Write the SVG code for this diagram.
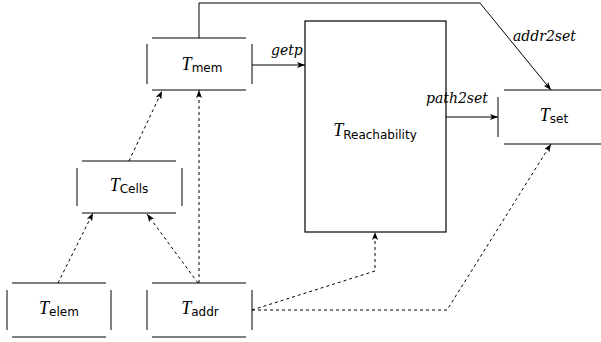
<svg xmlns="http://www.w3.org/2000/svg" width="601" height="342" viewBox="0 0 601 342">
<style>
.n line{stroke:#000;stroke-width:1}
.c path{fill:none;stroke:#000;stroke-width:1}
.d{stroke-dasharray:3 3}
.T{font-family:"Liberation Serif","DejaVu Serif",serif;font-style:italic;font-size:18px}
.s{font-family:"DejaVu Sans","Liberation Sans",sans-serif;font-size:12px}
.lbl{font-family:"DejaVu Serif","Liberation Serif",serif;font-style:italic;font-size:13px}
</style>
<defs>
<marker id="a" viewBox="0 0 8 6" refX="8" refY="3" markerWidth="8" markerHeight="6" markerUnits="userSpaceOnUse" orient="auto">
<path d="M0,0 L8,3 L0,6 L2,3 z" fill="#000"/>
</marker>
</defs>
<rect width="601" height="342" fill="#fff"/>
<g id="mem" class="n">
<line x1="152" y1="38" x2="246" y2="38"/><line x1="152" y1="90" x2="246" y2="90"/>
<line x1="147" y1="44" x2="147" y2="84"/><line x1="252" y1="44" x2="252" y2="84"/>
<text x="202" y="70" text-anchor="middle"><tspan class="T">T</tspan><tspan class="s" dy="2">mem</tspan></text>
</g>
<g id="reach">
<rect x="305" y="21" width="141" height="211" fill="none" stroke="#000" stroke-width="1.2"/>
<text x="375" y="136" text-anchor="middle"><tspan class="T">T</tspan><tspan class="s" dy="3">Reachability</tspan></text>
</g>
<g id="set" class="n">
<line x1="504" y1="90" x2="601" y2="90"/><line x1="504" y1="144" x2="601" y2="144"/>
<line x1="498" y1="97" x2="498" y2="137"/>
<text x="554" y="121" text-anchor="middle"><tspan class="T">T</tspan><tspan class="s" dy="2">set</tspan></text>
</g>
<g id="cells" class="n">
<line x1="82" y1="161" x2="176" y2="161"/><line x1="82" y1="213" x2="176" y2="213"/>
<line x1="77" y1="168" x2="77" y2="206"/><line x1="182" y1="168" x2="182" y2="206"/>
<text x="129" y="191" text-anchor="middle"><tspan class="T">T</tspan><tspan class="s" dy="2">Cells</tspan></text>
</g>
<g id="elem" class="n">
<line x1="12" y1="283" x2="106" y2="283"/><line x1="12" y1="337" x2="106" y2="337"/>
<line x1="7" y1="290" x2="7" y2="330"/><line x1="111" y1="290" x2="111" y2="330"/>
<text x="59" y="314" text-anchor="middle"><tspan class="T">T</tspan><tspan class="s" dy="2">elem</tspan></text>
</g>
<g id="addr" class="n">
<line x1="152" y1="283" x2="246" y2="283"/><line x1="152" y1="337" x2="246" y2="337"/>
<line x1="147" y1="290" x2="147" y2="330"/><line x1="252" y1="290" x2="252" y2="330"/>
<text x="200" y="314" text-anchor="middle"><tspan class="T">T</tspan><tspan class="s" dy="2">addr</tspan></text>
</g>
<g id="connectors" class="c">
<path d="M252,65 L305,65" marker-end="url(#a)"/>
<path d="M199,38 L199,3 L480,3 L551,90" marker-end="url(#a)"/>
<path d="M446,117 L498,117" marker-end="url(#a)"/>
<path class="d" d="M58,283 L93,213" marker-end="url(#a)"/>
<path class="d" d="M198,283 L147,214" marker-end="url(#a)"/>
<path class="d" d="M199,283 L199,90" marker-end="url(#a)"/>
<path class="d" d="M129,161 L162,91" marker-end="url(#a)"/>
<path class="d" d="M252,310 L375,271 L375,232" marker-end="url(#a)"/>
<path class="d" d="M252,310 L447,310 L551,144" marker-end="url(#a)"/>
<text class="lbl" x="271" y="55" style="font-size:14px">getp</text>
<text class="lbl" x="513" y="41" style="font-size:14px">addr2set</text>
<text class="lbl" x="426" y="103" style="font-size:14px">path2set</text>
</g>
</svg>
